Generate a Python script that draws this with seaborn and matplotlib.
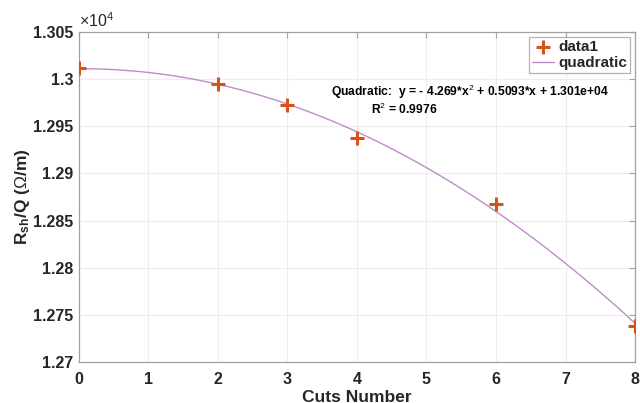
import numpy as np
import pandas as pd
import seaborn as sns
import matplotlib
matplotlib.use('Agg')
import matplotlib.pyplot as plt
from matplotlib.ticker import FuncFormatter, MultipleLocator

# data
cuts = [0, 2, 3, 4, 6, 8]
rsh_q = [13012, 12995, 12973, 12938, 12868, 12738]
fit_text = 'Quadratic:  y = - 4.269*x$^{2}$ + 0.5093*x + 1.301e+04'
r2_text = 'R$^{2}$ = 0.9976'

df = pd.DataFrame({'cuts': cuts, 'rsh_q': rsh_q})

sns.set_style('white')
plt.rcParams['font.family'] = ['Liberation Sans', 'DejaVu Sans']
plt.rcParams['mathtext.fontset'] = 'custom'
plt.rcParams['mathtext.rm'] = 'Liberation Sans'
plt.rcParams['mathtext.bf'] = 'Liberation Sans:bold'

grey = '#262626'
edge = '#a0a0a0'
orange = '#D95319'
purple = '#c08cc8'

fig = plt.figure(figsize=(6.4, 4.03), dpi=100)
ax = fig.add_axes([0.1234, 0.1017, 0.8688, 0.8189])

# fitted quadratic drawn by seaborn from the points
sns.regplot(data=df, x='cuts', y='rsh_q', order=2, ci=None, scatter=False,
            ax=ax, line_kws={'color': purple, 'lw': 1.0}, label='quadratic')
sns.scatterplot(data=df, x='cuts', y='rsh_q', ax=ax, marker='+', s=110,
                color=orange, linewidth=2.2, label='data1', zorder=5)

ax.set_xlim(0, 8)
ax.set_ylim(12700, 13050)
ax.xaxis.set_major_locator(MultipleLocator(1))
ax.yaxis.set_major_locator(MultipleLocator(50))
ax.yaxis.set_major_formatter(FuncFormatter(lambda v, p: '%g' % round(v / 1e4, 4)))

ax.grid(True, color='#ededed', lw=0.8)
ax.set_axisbelow(True)
for s in ax.spines.values():
    s.set_color(edge)
    s.set_linewidth(0.9)
ax.tick_params(direction='in', length=4, color=edge, labelsize=11.5,
               labelcolor=grey, top=True, right=True)
ax.tick_params(axis='x', pad=7)
ax.tick_params(axis='y', pad=4)
for lab in ax.get_xticklabels() + ax.get_yticklabels():
    lab.set_fontweight('bold')

ax.set_xlabel('Cuts Number', fontsize=12.5, fontweight='bold', color=grey, labelpad=2)
ax.set_ylabel(r'$\mathbf{R_{sh}}$/Q ($\Omega$/m)', fontsize=12.5, fontweight='bold',
              color=grey, labelpad=1)
ax.text(0.0, 1.005, r'$\times$10$^{4}$', transform=ax.transAxes, fontsize=11.5,
        color=grey, ha='left', va='bottom')

ax.text(0.454, 0.817, fit_text, transform=ax.transAxes, fontsize=8.7,
        fontweight='bold', color='black', ha='left', va='center')
ax.text(0.526, 0.764, r2_text, transform=ax.transAxes, fontsize=8.7,
        fontweight='bold', color='black', ha='left', va='center')

handles, labels = ax.get_legend_handles_labels()
order = [labels.index('data1'), labels.index('quadratic')]
leg = ax.legend([handles[i] for i in order], [labels[i] for i in order],
                loc='upper right', bbox_to_anchor=(0.9995, 1.0), fontsize=11,
                frameon=True, fancybox=False, borderpad=0.2, handlelength=1.4,
                handletextpad=0.3, labelspacing=0.15, borderaxespad=0.3)
leg.get_frame().set_edgecolor(edge)
leg.get_frame().set_linewidth(0.9)
for t in leg.get_texts():
    t.set_fontweight('bold')
    t.set_color(grey)

fig.savefig('out.png', dpi=100)
